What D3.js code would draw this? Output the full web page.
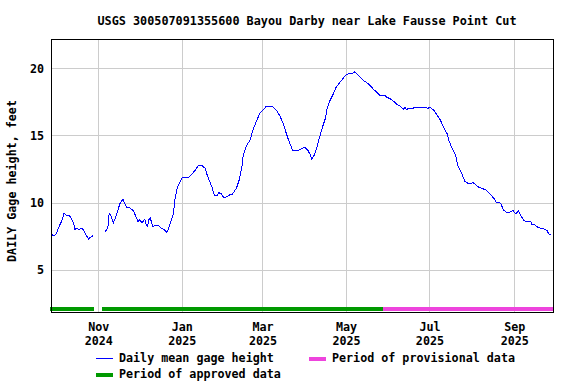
<!DOCTYPE html>
<html>
<head>
<meta charset="utf-8">
<script src="https://cdn.jsdelivr.net/npm/d3@7"></script>
<style>
  body { margin: 0; background: #fff; }
  svg { display: block; font-family: "DejaVu Sans Mono", monospace; font-weight: bold; }
</style>
</head>
<body>
<svg id="chart" width="576" height="384"></svg>
<script>
/* gage height chart, USGS style */

// daily mean gage height, feet (null = gap in record)
const dates = [
  "2024-09-28","2024-09-29","2024-10-01","2024-10-02","2024-10-04","2024-10-06","2024-10-07","2024-10-09",
  "2024-10-10","2024-10-12","2024-10-14","2024-10-15","2024-10-16","2024-10-18","2024-10-20","2024-10-22",
  "2024-10-23","2024-10-25","2024-10-26","2024-10-28","2024-11-02",
  "2024-11-06","2024-11-08","2024-11-09","2024-11-10","2024-11-12","2024-11-13","2024-11-15","2024-11-17",
  "2024-11-19","2024-11-20","2024-11-22","2024-11-23","2024-11-26","2024-11-27","2024-11-29","2024-11-30",
  "2024-12-01","2024-12-03","2024-12-05","2024-12-06","2024-12-07","2024-12-08","2024-12-09","2024-12-11",
  "2024-12-12","2024-12-15","2024-12-17","2024-12-20","2024-12-21","2024-12-22","2024-12-24","2024-12-26",
  "2024-12-27","2024-12-28","2024-12-29","2024-12-31","2025-01-01","2025-01-04","2025-01-06","2025-01-08",
  "2025-01-11","2025-01-13","2025-01-16","2025-01-18","2025-01-20","2025-01-23","2025-01-25","2025-01-27",
  "2025-01-28","2025-01-30","2025-02-01","2025-02-03","2025-02-05","2025-02-07","2025-02-10","2025-02-12",
  "2025-02-14","2025-02-15","2025-02-17","2025-02-20","2025-02-22","2025-02-25","2025-02-27","2025-03-02",
  "2025-03-04","2025-03-08","2025-03-11","2025-03-14","2025-03-16","2025-03-18","2025-03-20","2025-03-22",
  "2025-03-23","2025-03-27","2025-03-30","2025-04-01","2025-04-03","2025-04-05","2025-04-06","2025-04-08",
  "2025-04-10","2025-04-12","2025-04-14","2025-04-16","2025-04-17","2025-04-19","2025-04-22","2025-04-24",
  "2025-04-27","2025-04-29","2025-05-01","2025-05-04","2025-05-06","2025-05-07","2025-05-09","2025-05-11",
  "2025-05-14","2025-05-17","2025-05-19","2025-05-21","2025-05-24","2025-05-26","2025-05-29","2025-05-31",
  "2025-06-03","2025-06-05","2025-06-07","2025-06-10","2025-06-12","2025-06-13","2025-06-14","2025-06-18",
  "2025-06-23","2025-06-28","2025-06-30","2025-07-01","2025-07-04","2025-07-06","2025-07-09","2025-07-11",
  "2025-07-14","2025-07-15","2025-07-17","2025-07-20","2025-07-22","2025-07-25","2025-07-27","2025-07-29",
  "2025-07-31","2025-08-02","2025-08-05","2025-08-08","2025-08-11","2025-08-14","2025-08-17","2025-08-19",
  "2025-08-22","2025-08-24","2025-08-26","2025-08-29","2025-08-31","2025-09-02","2025-09-04","2025-09-05",
  "2025-09-08","2025-09-10","2025-09-13","2025-09-14","2025-09-16","2025-09-18","2025-09-20","2025-09-23",
  "2025-09-25","2025-09-26","2025-09-28"
];
const gageHeight = [
  7.67, 7.50, 7.60, 7.85, 8.34, 8.77, 9.21, 9.00,
  9.08, 8.90, 8.47, 7.97, 8.10, 7.97, 8.10, 7.84,
  7.60, 7.28, 7.40, 7.52, null,
  7.84, 8.10, 9.21, 9.08, 8.47, 8.72, 9.33, 9.96,
  10.25, 10.00, 9.58, 9.66, 9.46, 9.33, 8.84, 8.59,
  8.71, 8.51, 8.76, 8.34, 8.21, 8.71, 8.84, 8.21,
  8.27, 8.32, 8.10, 7.92, 7.77, 7.97, 8.59, 9.21,
  10.20, 10.70, 11.19, 11.56, 11.82, 11.89, 11.89, 12.06,
  12.43, 12.73, 12.73, 12.56, 11.93, 11.19, 10.50, 10.50,
  10.74, 10.65, 10.33, 10.45, 10.57, 10.62, 11.07, 11.69,
  12.68, 13.55, 14.17, 14.67, 15.41, 16.15, 16.65, 16.95,
  17.19, 17.19, 16.90, 16.40, 15.91, 15.28, 14.67, 14.17,
  13.85, 13.85, 14.05, 14.12, 13.92, 13.55, 13.23, 13.55,
  14.20, 14.96, 15.66, 16.28, 16.90, 17.52, 18.14, 18.63,
  19.00, 19.26, 19.50, 19.63, 19.63, 19.75, 19.58, 19.38,
  19.08, 18.88, 18.68, 18.44, 18.18, 17.94, 18.01, 17.84,
  17.69, 17.52, 17.34, 17.14, 16.95, 17.10, 16.95, 17.02,
  17.10, 17.10, 17.02, 17.10, 16.90, 16.60, 16.15, 15.66,
  15.11, 14.67, 14.17, 13.55, 12.68, 12.06, 11.56, 11.44,
  11.39, 11.49, 11.19, 11.07, 10.95, 10.65, 10.33, 10.00,
  9.96, 9.46, 9.29, 9.29, 9.41, 9.16, 9.36, 9.16,
  8.66, 8.59, 8.59, 8.34, 8.34, 8.17, 8.10, 8.02,
  7.92, 7.67, 7.57
];

// data-approval periods [start, end]
const approvedPeriods = [["2024-09-27", "2024-10-29"], ["2024-11-04", "2025-05-28"]];
const provisionalPeriods = [["2025-05-28", "2025-09-29"]];

const xTickDates = ["2024-11-01","2025-01-01","2025-03-01","2025-05-01","2025-07-01","2025-09-01"];
const yTicks = [5, 10, 15, 20];

const title = "USGS 300507091355600 Bayou Darby near Lake Fausse Point Cut";
const yLabel = "DAILY Gage height, feet";

const margin = {top: 39, right: 22, bottom: 72, left: 51};
const width = 576, height = 384;

const parse = d3.utcParse("%Y-%m-%d");
const fmtMon = d3.utcFormat("%b"), fmtYr = d3.utcFormat("%Y");

const svg = d3.select("#chart");

const x = d3.scaleUtc()
  .domain([new Date(Date.UTC(2024, 8, 27, 12)), new Date(Date.UTC(2025, 8, 30))])
  .range([margin.left, width - margin.right]);

const y = d3.scaleLinear()
  .domain([1.85, 22.18])
  .range([height - margin.bottom, margin.top]);

/*** gridlines */
svg.append("g")
  .attr("stroke", "#cccccc")
  .attr("shape-rendering", "crispEdges")
  .call(g => g.selectAll("line.h").data(yTicks).join("line")
    .attr("x1", margin.left).attr("x2", width - margin.right)
    .attr("y1", d => Math.round(y(d)) + 0.5).attr("y2", d => Math.round(y(d)) + 0.5))
  .call(g => g.selectAll("line.v").data(xTickDates).join("line")
    .attr("x1", d => Math.round(x(parse(d))) + 0.5).attr("x2", d => Math.round(x(parse(d))) + 0.5)
    .attr("y1", margin.top).attr("y2", height - margin.bottom));

/*** approval bars */
const barY = y(1.85) - 5;
const bars = (periods, color) => svg.append("g")
  .attr("fill", color)
  .attr("shape-rendering", "crispEdges")
  .selectAll("rect").data(periods).join("rect")
  .attr("x", d => Math.max(margin.left - 1, x(parse(d[0]))))
  .attr("width", d => x(parse(d[1])) - Math.max(margin.left - 1, x(parse(d[0]))))
  .attr("y", barY)
  .attr("height", 4);
bars(approvedPeriods, "#009900");
bars(provisionalPeriods, "#ee44dd");

/*** the line */
const series = dates.map((d, i) => ({date: parse(d), value: gageHeight[i]}));
const line = d3.line()
  .defined(d => d.value !== null)
  .x(d => x(d.date))
  .y(d => y(d.value));

svg.append("path")
  .datum(series)
  .attr("fill", "none")
  .attr("stroke", "#0000ff")
  .attr("stroke-width", 1)
  .attr("shape-rendering", "crispEdges")
  .attr("d", line);

/*** frame */
svg.append("rect")
  .attr("x", margin.left + 0.5)
  .attr("y", margin.top + 0.5)
  .attr("width", width - margin.right - margin.left - 1)
  .attr("height", height - margin.bottom - margin.top)
  .attr("fill", "none")
  .attr("stroke", "#000")
  .attr("stroke-width", 1.4)
  .attr("shape-rendering", "crispEdges");

/*** axes labels */
const yAxis = svg.append("g")
  .attr("transform", `translate(${margin.left},0)`)
  .call(d3.axisLeft(y).tickValues(yTicks).tickSize(0).tickPadding(7));
yAxis.select(".domain").remove();
yAxis.selectAll("text")
  .attr("font-family", "DejaVu Sans Mono, monospace")
  .attr("font-weight", "bold")
  .attr("font-size", "11.7px")
  .attr("fill", "#000");

const xAxis = svg.append("g")
  .attr("transform", `translate(0,${height - margin.bottom})`)
  .call(d3.axisBottom(x).tickValues(xTickDates.map(parse)).tickSize(0).tickFormat(""));
xAxis.select(".domain").remove();
xAxis.selectAll(".tick").append("text")
  .attr("fill", "#000")
  .attr("text-anchor", "middle")
  .attr("font-family", "DejaVu Sans Mono, monospace")
  .attr("font-weight", "bold")
  .attr("font-size", "11.7px")
  .call(t => t.append("tspan").attr("x", 0).attr("y", 19).text(d => fmtMon(d)))
  .call(t => t.append("tspan").attr("x", 0).attr("y", 33).text(d => fmtYr(d)));

svg.append("text")
  .attr("x", 307)
  .attr("y", 25)
  .attr("text-anchor", "middle")
  .attr("font-size", "11.8px")
  .text(title);

svg.append("text")
  .attr("transform", "translate(16,181) rotate(-90)")
  .attr("text-anchor", "middle")
  .attr("font-size", "11.7px")
  .text(yLabel);

/*** legend */
const legend = svg.append("g").attr("font-size", "11.7px");
const items = [
  {label: "Daily mean gage height", color: "#0000ff", w: 1, lx: 96, ly: 358},
  {label: "Period of provisional data", color: "#ee44dd", w: 4, lx: 309, ly: 358},
  {label: "Period of approved data", color: "#009900", w: 4, lx: 96, ly: 374}
];
items.forEach(it => {
  legend.append("line")
    .attr("x1", it.lx).attr("x2", it.lx + 17)
    .attr("y1", it.ly + 0.5).attr("y2", it.ly + 0.5)
    .attr("stroke", it.color).attr("stroke-width", it.w)
    .attr("shape-rendering", "crispEdges");
  legend.append("text")
    .attr("x", it.lx + 23)
    .attr("y", it.ly + 4)
    .text(it.label);
});
</script>
</body>
</html>
